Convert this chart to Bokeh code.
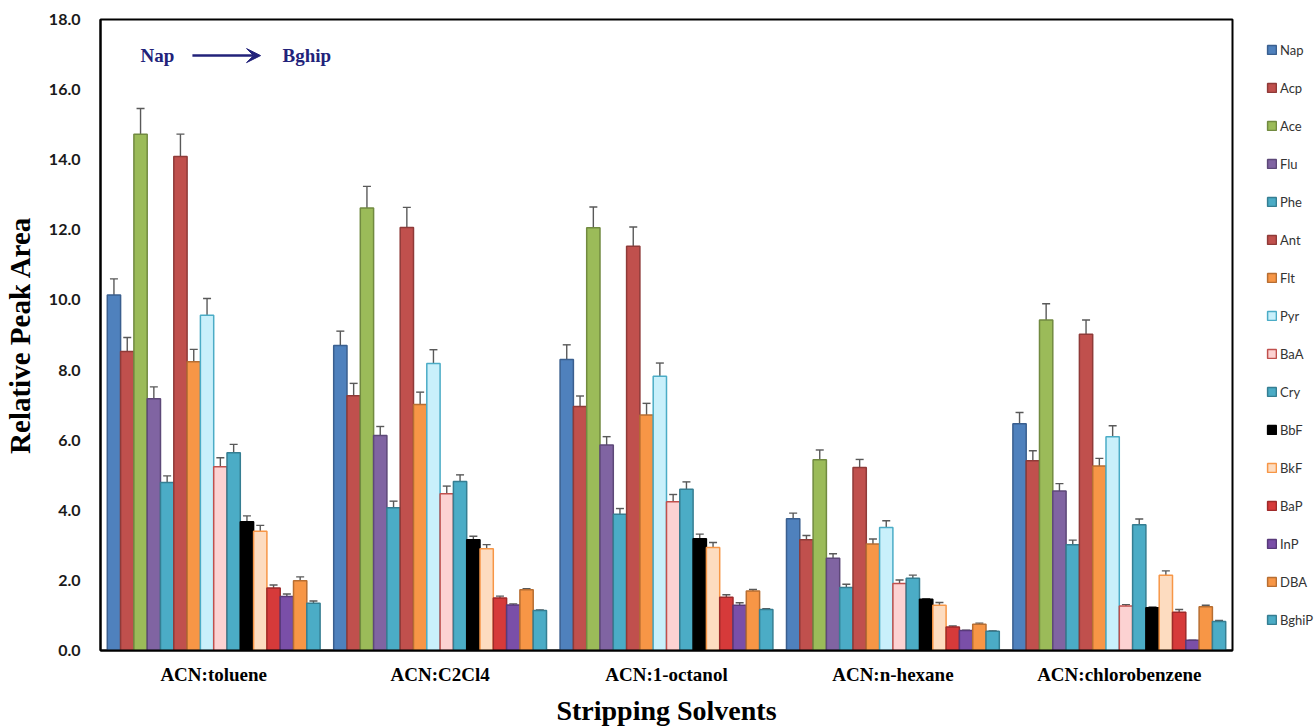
from bokeh.plotting import figure
from bokeh.models import (ColumnDataSource, FactorRange, Range1d, Whisker, TeeHead, Legend,
                          LegendItem, Label, Arrow, VeeHead, FixedTicker, NumeralTickFormatter)
from bokeh.transform import dodge
from bokeh.embed import file_html
from bokeh.resources import INLINE

solvents = ["ACN:toluene", "ACN:C2Cl4", "ACN:1-octanol", "ACN:n-hexane", "ACN:chlorobenzene"]
compounds = ["Nap", "Acp", "Ace", "Flu", "Phe", "Ant", "Flt", "Pyr",
             "BaA", "Cry", "BbF", "BkF", "BaP", "InP", "DBA", "BghiP"]

toluene = [10.14, 8.53, 14.73, 7.18, 4.79, 14.09, 8.24, 9.56, 5.24, 5.64, 3.67, 3.40, 1.78, 1.54, 1.99, 1.35]
c2cl4 = [8.70, 7.27, 12.62, 6.13, 4.07, 12.07, 7.02, 8.19, 4.47, 4.82, 3.16, 2.90, 1.50, 1.30, 1.73, 1.14]
octanol = [8.30, 6.96, 12.06, 5.86, 3.89, 11.53, 6.72, 7.82, 4.24, 4.60, 3.19, 2.94, 1.52, 1.29, 1.70, 1.17]
hexane = [3.76, 3.16, 5.44, 2.63, 1.80, 5.22, 3.04, 3.51, 1.91, 2.06, 1.46, 1.29, 0.67, 0.57, 0.75, 0.55]
chloro = [6.47, 5.41, 9.43, 4.55, 3.02, 9.02, 5.26, 6.10, 1.27, 3.59, 1.22, 2.15, 1.09, 0.29, 1.25, 0.83]

err_toluene = [0.46, 0.40, 0.73, 0.34, 0.19, 0.64, 0.35, 0.48, 0.26, 0.24, 0.17, 0.17, 0.09, 0.07, 0.11, 0.06]
err_c2cl4 = [0.41, 0.35, 0.62, 0.26, 0.19, 0.57, 0.35, 0.39, 0.22, 0.19, 0.10, 0.12, 0.05, 0.03, 0.03, 0.02]
err_octanol = [0.42, 0.30, 0.59, 0.24, 0.16, 0.55, 0.33, 0.38, 0.21, 0.21, 0.13, 0.14, 0.07, 0.07, 0.04, 0.02]
err_hexane = [0.16, 0.12, 0.28, 0.13, 0.09, 0.23, 0.14, 0.19, 0.10, 0.09, 0.02, 0.08, 0.03, 0.01, 0.03, 0.01]
err_chloro = [0.32, 0.29, 0.46, 0.21, 0.13, 0.41, 0.22, 0.31, 0.04, 0.16, 0.02, 0.12, 0.08, 0.00, 0.04, 0.03]

fills = ["#4f81bd", "#c0504d", "#9bbb59", "#8064a2", "#4bacc6", "#c0504d", "#f79646", "#c9f0fb",
         "#fcd2d2", "#4bacc6", "#000000", "#fddcc0", "#d63a3a", "#7a4fa8", "#f79646", "#4bacc6"]
lines = ["#3a5f8f", "#8f3a38", "#718a40", "#5d4878", "#357e92", "#8f3a38", "#b76e32", "#4bacc6",
         "#c0504d", "#357e92", "#000000", "#f79646", "#9e2a2a", "#583a7a", "#b76e32", "#357e92"]

values = [toluene, c2cl4, octanol, hexane, chloro]
errors = [err_toluene, err_c2cl4, err_octanol, err_hexane, err_chloro]

p = figure(frame_width=1132, frame_height=631,
           x_range=FactorRange(*solvents, range_padding=0, factor_padding=0),
           y_range=Range1d(0, 18), output_backend="svg", toolbar_location=None,
           min_border_left=90, min_border_right=82, min_border_top=19, min_border_bottom=70)

n = len(compounds)
w = 0.94 / n
items = []
for j, name in enumerate(compounds):
    top = [v[j] for v in values]
    err = [e[j] for e in errors]
    src = ColumnDataSource(dict(cat=solvents, top=top,
                                upper=[t + e for t, e in zip(top, err)],
                                lower=[t - e for t, e in zip(top, err)]))
    off = (j - (n - 1) / 2) * w
    r = p.vbar(x=dodge("cat", off, range=p.x_range), top="top", width=w, source=src,
               fill_color=fills[j], line_color=lines[j], line_width=1.5)
    wk = Whisker(source=src, base=dodge("cat", off, range=p.x_range), upper="upper", lower="lower",
                 line_color="#595959", line_width=1.4,
                 upper_head=TeeHead(size=8, line_color="#595959", line_width=1.4),
                 lower_head=TeeHead(size=8, line_color="#595959", line_width=1.4))
    p.add_layout(wk)
    items.append(LegendItem(label=name, renderers=[r]))

legend = Legend(items=items, location="left", spacing=22, glyph_height=11, glyph_width=11,
                label_height=11, padding=0, margin=0, border_line_color=None,
                background_fill_alpha=0, label_text_font="Lato", label_text_font_size="13px",
                label_text_color="#333333", label_standoff=3,
                title=" ", title_location="left", title_text_font_size="1px", title_standoff=33)
p.add_layout(legend, "right")

p.xgrid.visible = False
p.ygrid.visible = False
p.outline_line_color = "black"
p.outline_line_width = 2

p.yaxis.ticker = FixedTicker(ticks=[0, 2, 4, 6, 8, 10, 12, 14, 16, 18])
p.yaxis.formatter = NumeralTickFormatter(format="0.0")
p.yaxis.major_tick_line_color = None
p.yaxis.minor_tick_line_color = None
p.yaxis.axis_line_color = "black"
p.yaxis.axis_line_width = 2
p.yaxis.major_label_text_font = "Lato"
p.yaxis.major_label_text_font_style = "bold"
p.yaxis.major_label_text_font_size = "16px"
p.yaxis.major_label_text_color = "#1a1a1a"
p.yaxis.major_label_standoff = 14
p.yaxis.axis_label = "Relative Peak Area"
p.yaxis.axis_label_text_font = "Liberation Serif"
p.yaxis.axis_label_text_font_style = "bold"
p.yaxis.axis_label_text_font_size = "29px"
p.yaxis.axis_label_text_color = "black"
p.yaxis.axis_label_standoff = 10

p.xaxis.major_tick_line_color = None
p.xaxis.minor_tick_line_color = None
p.xaxis.axis_line_color = "black"
p.xaxis.axis_line_width = 2
p.xaxis.major_label_text_font = "Liberation Serif"
p.xaxis.major_label_text_font_style = "bold"
p.xaxis.major_label_text_font_size = "19px"
p.xaxis.major_label_text_color = "black"
p.xaxis.major_label_standoff = 7
p.xaxis.axis_label = "Stripping Solvents"
p.xaxis.axis_label_text_font = "Liberation Serif"
p.xaxis.axis_label_text_font_style = "bold"
p.xaxis.axis_label_text_font_size = "28px"
p.xaxis.axis_label_text_color = "black"
p.xaxis.axis_label_standoff = 7

navy = "#22227a"
p.add_layout(Label(x=0.177, y=16.97, text="Nap", text_font="Liberation Serif", text_font_style="bold",
                   text_font_size="19px", text_color=navy, text_baseline="middle"))
p.add_layout(Label(x=0.804, y=16.97, text="Bghip", text_font="Liberation Serif", text_font_style="bold",
                   text_font_size="19px", text_color=navy, text_baseline="middle"))
p.add_layout(Arrow(x_start=0.406, y_start=16.97, x_end=0.707, y_end=16.97, line_color=navy,
                   line_width=2.5, end=VeeHead(size=14, fill_color=navy, line_color=navy)))

open("out.html", "w").write(file_html(p, INLINE))
